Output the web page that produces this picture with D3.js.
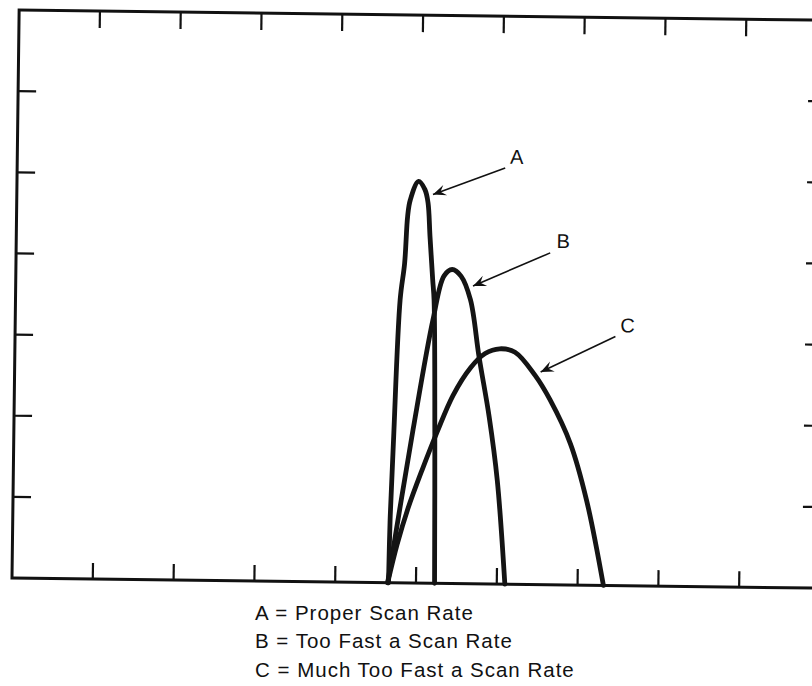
<!DOCTYPE html>
<html>
<head>
<meta charset="utf-8">
<script src="https://cdn.jsdelivr.net/npm/d3@7"></script>
<style>
  html, body { margin: 0; padding: 0; background: #fff; }
  svg { display: block; }
  .frame { fill: none; stroke: #111; stroke-width: 3; }
  .tick { stroke: #111; stroke-width: 2.2; }
  .peak { fill: none; stroke: #141414; stroke-width: 4.8; stroke-linejoin: round; stroke-linecap: round; }
  .pointer { stroke: #111; stroke-width: 1.6; }
  .letter { font-family: "Liberation Sans", Arial, sans-serif; font-size: 20px; fill: #111; }
  .key { font-family: "Liberation Sans", Arial, sans-serif; font-size: 20.5px; fill: #111; letter-spacing: 1px; }
</style>
</head>
<body>
<svg id="chart"></svg>
<script>
const width = 812;
const height = 686;

// axis units: 10 divisions across, 7 up
const xDomain = [0, 10];
const yDomain = [0, 7];
const xTicks = [1, 2, 3, 4, 5, 6, 7, 8, 9];
const yTicks = [1, 2, 3, 4, 5, 6];

// peaks
const curveA = [[4.66, 0], [4.67, 0.77], [4.70, 1.76], [4.76, 3.49], [4.81, 3.94], [4.84, 4.52], [4.87, 4.72],
  [4.97, 4.95], [5.05, 4.85], [5.09, 4.69], [5.12, 4.27], [5.16, 3.74], [5.18, 3.49], [5.21, 1.85], [5.23, 0]];
const curveB = [[4.65, 0], [4.94, 1.89], [5.17, 3.25], [5.30, 3.79], [5.40, 3.87], [5.51, 3.79], [5.63, 3.50],
  [5.745, 2.80], [5.88, 2.06], [5.99, 1.28], [6.10, 0]];
const curveC = [[4.65, 0], [4.76, 0.47], [4.89, 0.92], [5.06, 1.40], [5.24, 1.87], [5.43, 2.32], [5.64, 2.66],
  [5.82, 2.84], [6.00, 2.90], [6.19, 2.86], [6.44, 2.58], [6.63, 2.28], [6.89, 1.74], [7.10, 1.04], [7.32, 0]];

const labels = ["A", "B", "C"];
const labelPos = [[6.18, 5.27], [6.77, 4.24], [7.58, 3.21]];
const arrowFrom = [[6.04, 5.13], [6.61, 4.09], [7.43, 3.07]];
const arrowTo = [[5.15, 4.79], [5.66, 3.67], [6.51, 2.62]];

const keyLines = ["A = Proper Scan Rate", "B = Too Fast a Scan Rate", "C = Much Too Fast a Scan Rate"];

const svg = d3.select("#chart").attr("width", width).attr("height", height);
svg.append("rect").attr("width", width).attr("height", height).attr("fill", "#fff");

const origin = [12, 578];
const x = d3.scaleLinear().domain(xDomain).range([12, 820]);
const y = d3.scaleLinear().domain(yDomain).range([578, 10]);

svg.append("defs").append("marker")
  .attr("id", "head")
  .attr("viewBox", "-14 -6 16 12")
  .attr("refX", 0).attr("refY", 0)
  .attr("markerWidth", 16).attr("markerHeight", 12)
  .attr("markerUnits", "userSpaceOnUse")
  .attr("orient", "auto")
  .append("path")
  .attr("d", "M0,0 L-13,-5.5 L-8,0 L-13,5.5 Z")
  .attr("fill", "#111");

// the scan sits slightly tilted
const g = svg.append("g").attr("transform", `rotate(0.72 ${origin[0]} ${origin[1]})`);

g.append("rect").attr("class", "frame")
  .attr("x", x(xDomain[0])).attr("y", y(yDomain[1]))
  .attr("width", x(xDomain[1]) - x(xDomain[0]))
  .attr("height", y(yDomain[0]) - y(yDomain[1]));

const ticks = g.append("g");
ticks.selectAll("line.top").data(xTicks).join("line").attr("class", "tick")
  .attr("x1", (d) => x(d)).attr("x2", (d) => x(d))
  .attr("y1", y(yDomain[1])).attr("y2", y(yDomain[1]) + 17);
ticks.selectAll("line.bottom").data(xTicks).join("line").attr("class", "tick")
  .attr("x1", (d) => x(d)).attr("x2", (d) => x(d))
  .attr("y1", y(yDomain[0])).attr("y2", y(yDomain[0]) - 16);
ticks.selectAll("line.left").data(yTicks).join("line").attr("class", "tick")
  .attr("y1", (d) => y(d)).attr("y2", (d) => y(d))
  .attr("x1", x(xDomain[0])).attr("x2", x(xDomain[0]) + 18);
ticks.selectAll("line.right").data(yTicks).join("line").attr("class", "tick")
  .attr("y1", (d) => y(d)).attr("y2", (d) => y(d))
  .attr("x1", x(xDomain[1])).attr("x2", x(xDomain[1]) - 18);

const line = d3.line()
  .x((d) => x(d[0]))
  .y((d) => y(d[1]))
  .curve(d3.curveCatmullRom.alpha(0.5));

g.selectAll("path.peak")
  .data([curveC, curveB, curveA])
  .join("path")
  .attr("class", "peak")
  .attr("d", line);

g.selectAll("line.pointer")
  .data(labels)
  .join("line")
  .attr("class", "pointer")
  .attr("x1", (d, i) => x(arrowFrom[i][0]))
  .attr("y1", (d, i) => y(arrowFrom[i][1]))
  .attr("x2", (d, i) => x(arrowTo[i][0]))
  .attr("y2", (d, i) => y(arrowTo[i][1]))
  .attr("marker-end", "url(#head)");

g.selectAll("text.letter")
  .data(labels)
  .join("text")
  .attr("class", "letter")
  .attr("x", (d, i) => x(labelPos[i][0]))
  .attr("y", (d, i) => y(labelPos[i][1]))
  .attr("text-anchor", "middle")
  .attr("dy", "0.36em")
  .text((d) => d);

svg.selectAll("text.key")
  .data(keyLines)
  .join("text")
  .attr("class", "key")
  .attr("x", 255)
  .attr("y", (d, i) => 620 + i * 28.3)
  .text((d) => d);
</script>
</body>
</html>
